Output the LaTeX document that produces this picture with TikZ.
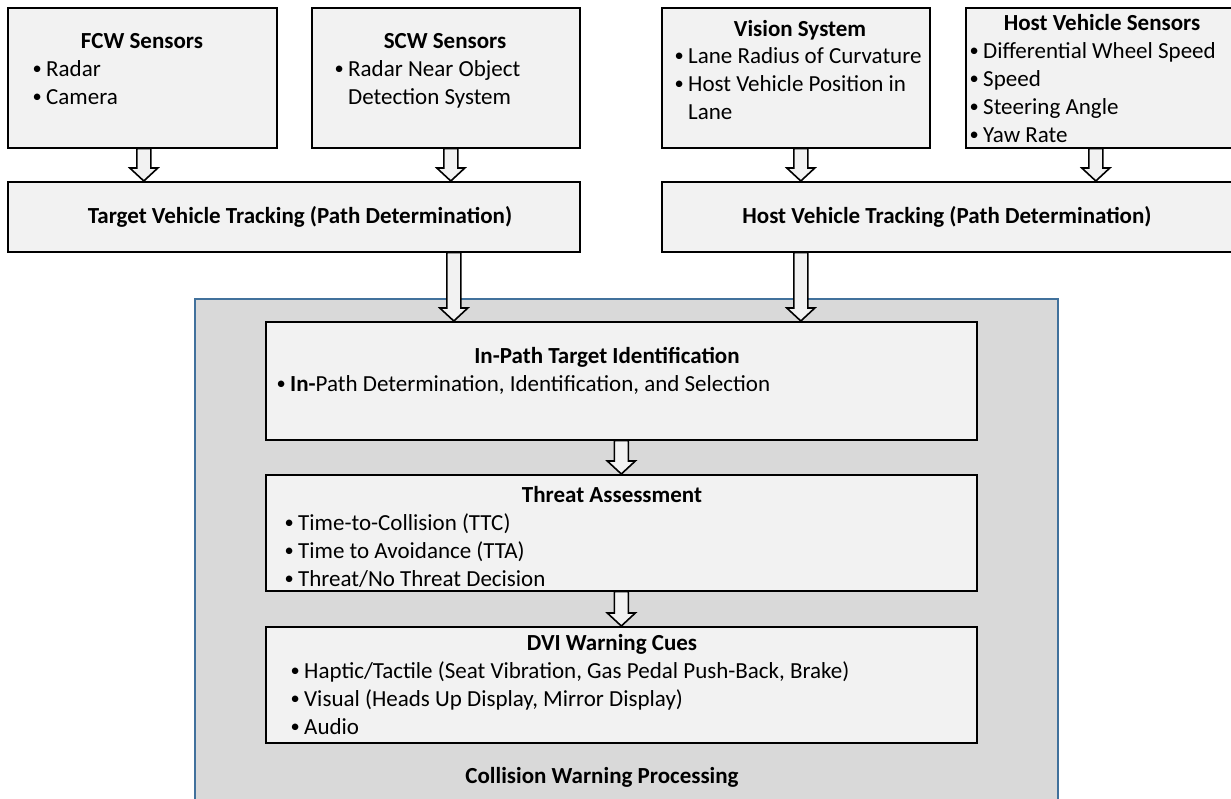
\documentclass[tikz,border=0pt]{standalone}
\usepackage{fontspec}
\usepackage{graphicx}
\setmainfont{Carlito}
\usetikzlibrary{calc}
\definecolor{boxfill}{RGB}{242,242,242}
\definecolor{panel}{RGB}{217,217,217}
\definecolor{panelborder}{RGB}{65,113,156}
\newcommand\bul{\makebox[12pt][l]{\hspace{-1.5pt}\raisebox{1.2pt}{\scalebox{0.8}{\textbullet}}}}
\tikzset{
  box/.style={draw=black, line width=1.6pt, fill=boxfill, anchor=north west, inner sep=0pt},
  ttl/.style={font=\fontsize{23}{28}\selectfont\bfseries, inner sep=0pt, anchor=base},
  bl/.style={font=\fontsize{23}{28}\selectfont, inner sep=0pt, anchor=base west},
  barrow/.style={draw=black, line width=1.6pt, fill=boxfill, line join=miter,
    to path={let \p1=(\tikztostart), \p2=(\tikztotarget) in
      (\x1-7pt,\y1) -- (\x1-7pt,\y2+13pt) -- (\x1-14pt,\y2+13pt) -- (\x1,\y2)
      -- (\x1+14pt,\y2+13pt) -- (\x1+7pt,\y2+13pt) -- (\x1+7pt,\y1) -- cycle}},
}
\begin{document}
\begin{tikzpicture}[x=1pt,y=-1pt]
\useasboundingbox (0,0) rectangle (1231,798);
% panel
\node[draw=panelborder, line width=2pt, fill=panel, anchor=north west, inner sep=0pt,
      minimum width=863pt, minimum height=530pt] (panel) at (194,298) {};
% top boxes
\node[box, minimum width=269pt, minimum height=140pt] (fcw) at (7,7) {};
\node[box, minimum width=268pt, minimum height=140pt] (scw) at (311,7) {};
\node[box, minimum width=268pt, minimum height=140pt] (vis) at (661,7) {};
\node[box, minimum width=266pt, minimum height=140pt] (hvs) at (965,7) {};
\node[box, minimum width=572pt, minimum height=70pt] (tvt) at (7,181) {};
\node[box, minimum width=570pt, minimum height=70pt] (hvt) at (661,181) {};
% inner boxes
\node[box, minimum width=711pt, minimum height=118pt] (inp) at (265,321) {};
\node[box, minimum width=711pt, minimum height=116pt] (thr) at (265,474) {};
\node[box, minimum width=711pt, minimum height=116pt] (dvi) at (265,626) {};
% texts
\node[ttl] (fcwt) at (142,48) {FCW Sensors};
\node[bl] (fcw1) at (34,76) {\bul Radar};
\node[bl] (fcw2) at (34,104) {\bul Camera};
\node[ttl] (scwt) at (445,48) {SCW Sensors};
\node[bl] (scw1) at (336,76) {\bul Radar Near Object};
\node[bl] (scw2) at (348,104) {Detection System};
\node[ttl] (vist) at (800,36) {Vision System};
\node[bl] (vis1) at (676,63) {\bul Lane Radius of Curvature};
\node[bl] (vis2) at (676,91) {\bul Host Vehicle Position in};
\node[bl] (vis3) at (688,119) {Lane};
\node[ttl] (hvst) at (1102,30) {Host Vehicle Sensors};
\node[bl] (hvs1) at (971,58) {\bul Differential Wheel Speed};
\node[bl] (hvs2) at (971,86) {\bul Speed};
\node[bl] (hvs3) at (971,114) {\bul Steering Angle};
\node[bl] (hvs4) at (971,142) {\bul Yaw Rate};
\node[ttl] (tvtt) at (300,223) {Target Vehicle Tracking (Path Determination)};
\node[ttl] (hvtt) at (947,223) {Host Vehicle Tracking (Path Determination)};
\node[ttl] (inpt) at (607,363) {In-Path Target Identification};
\node[bl] (inp1) at (278,391) {\bul\textbf{In-}Path Determination, Identification, and Selection};
\node[ttl] (thrt) at (612,502) {Threat Assessment};
\node[bl] (thr1) at (286,530) {\bul Time-to-Collision (TTC)};
\node[bl] (thr2) at (286,558) {\bul Time to Avoidance (TTA)};
\node[bl] (thr3) at (286,586) {\bul Threat/No Threat Decision};
\node[ttl] (dvit) at (612,650) {DVI Warning Cues};
\node[bl] (dvi1) at (292,678) {\bul Haptic/Tactile (Seat Vibration, Gas Pedal Push-Back, Brake)};
\node[bl] (dvi2) at (292,706) {\bul Visual (Heads Up Display, Mirror Display)};
\node[bl] (dvi3) at (292,734) {\bul Audio};
\node[ttl] (cwp) at (602,783) {Collision Warning Processing};
% arrows
\draw[barrow] ($(fcw.south)+(1.5,0)$) to (tvt.north);
\draw[barrow] ($(scw.south)+(5,0)$) to (tvt.north);
\draw[barrow] ($(vis.south)+(5,0)$) to (hvt.north);
\draw[barrow] ($(hvs.south)+(-3,0)$) to (hvt.north);
\draw[barrow] ($(tvt.south)+(160,0)$) to (inp.north);
\draw[barrow] ($(hvt.south)+(-146,0)$) to (inp.north);
\draw[barrow] (inp.south) to (thr.north);
\draw[barrow] (thr.south) to (dvi.north);
\end{tikzpicture}
\end{document}
